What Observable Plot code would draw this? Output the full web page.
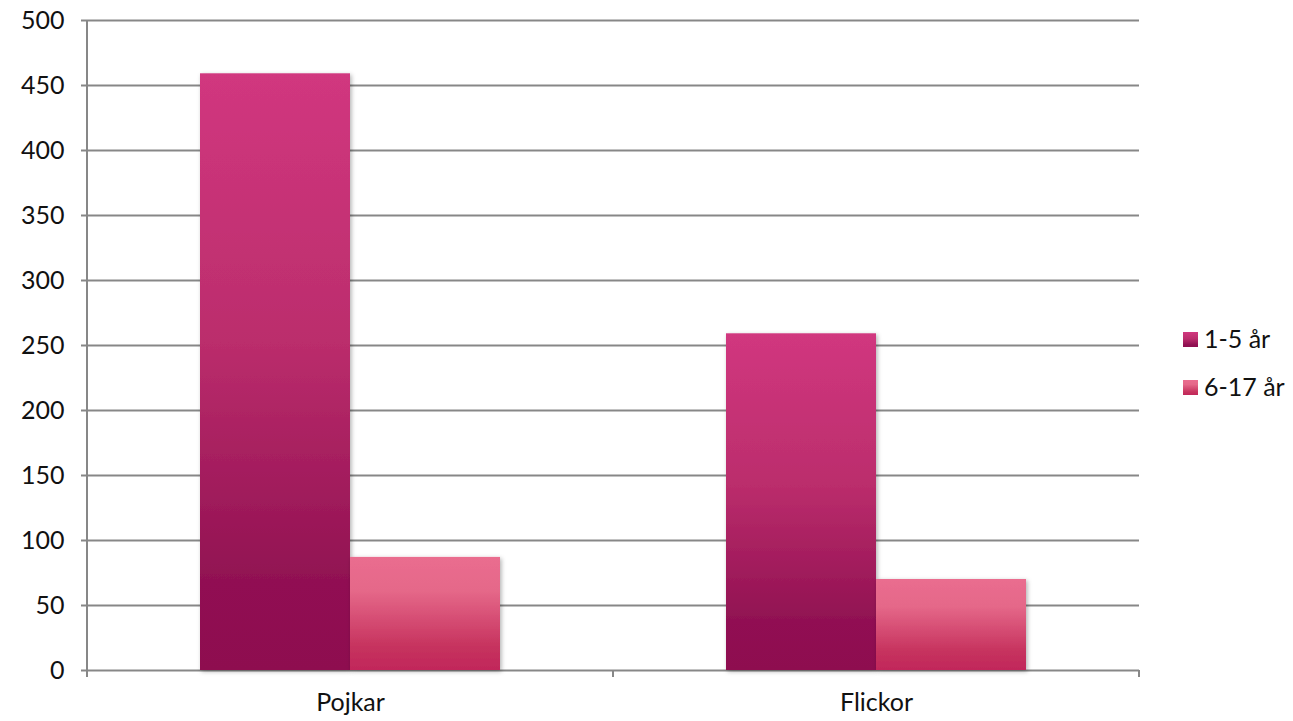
<!DOCTYPE html>
<html>
<head>
<meta charset="utf-8">
<script src="https://cdn.jsdelivr.net/npm/d3@7"></script>
<script src="https://cdn.jsdelivr.net/npm/@observablehq/plot@0.6"></script>
<style>
  html, body { margin: 0; padding: 0; background: #fff; }
  #chart { position: relative; width: 1293px; height: 721px; }
</style>
</head>
<body>
<div id="chart"></div>
<script>
// Barn per kön och åldersgrupp
const categories = ["Pojkar", "Flickor"];
const ageGroups = ["1-5 år", "6-17 år"];
const values15 = [459, 259];
const values617 = [87, 70];
const yTicks = [0, 50, 100, 150, 200, 250, 300, 350, 400, 450, 500];

const gradientIds = ["grad-young", "grad-old"];
const gradientStops = [
  [[0, "#D1377F"], [0.45, "#BB2D6C"], [0.85, "#911152"], [1, "#8E0F50"]],
  [[0, "#EA6D8F"], [0.3, "#E56889"], [0.8, "#C6325E"], [1, "#C1275A"]]
];

const data = categories.flatMap((c, i) => [
  {category: c, group: ageGroups[0], value: values15[i]},
  {category: c, group: ageGroups[1], value: values617[i]}
]);

const gridColor = "#878787";
const font = "Lato, 'DejaVu Sans', sans-serif";
const fontSize = 25;

const plot = Plot.plot({
  width: 1293,
  height: 721,
  marginLeft: 87,
  marginRight: 154,
  marginTop: 20,
  marginBottom: 51,
  style: {fontFamily: font, fontSize: `${fontSize}px`, color: "#111", background: "#fff", overflow: "visible"},
  fx: {domain: categories, padding: 0, label: null, axis: null},
  x: {domain: ageGroups, paddingInner: 0, paddingOuter: 0.75, axis: null},
  y: {domain: [0, 500], label: null, axis: null},
  marks: [
    Plot.gridY(yTicks, {stroke: gridColor, strokeOpacity: 1, strokeWidth: 2}),
    Plot.axisY(yTicks, {tickSize: 6, tickPadding: 17, stroke: gridColor, strokeWidth: 2, strokeOpacity: 1, label: null, fill: "#111"}),
    Plot.barY(data, {
      fx: "category",
      x: "group",
      y: "value",
      fill: d => `url(#${gradientIds[ageGroups.indexOf(d.group)]})`
    }),
    Plot.axisFx({anchor: "bottom", tickSize: 0, tickPadding: 23, label: null, fill: "#111"})
  ]
});

const svg = d3.select(plot);
const defs = svg.insert("defs", ":first-child");
gradientIds.forEach((id, i) => {
  const g = defs.append("linearGradient").attr("id", id)
    .attr("x1", 0).attr("y1", 0).attr("x2", 0).attr("y2", 1);
  gradientStops[i].forEach(([o, c]) => g.append("stop").attr("offset", o).attr("stop-color", c));
});
const f = defs.append("filter").attr("id", "bar-shadow")
  .attr("x", "-10%").attr("y", "-10%").attr("width", "130%").attr("height", "130%");
f.append("feDropShadow").attr("dx", 1.5).attr("dy", 1.5).attr("stdDeviation", 2)
  .attr("flood-color", "#000").attr("flood-opacity", 0.3);

svg.selectAll("g[aria-label='bar'] rect").attr("style", "filter:url(#bar-shadow)");

// Axis line and category boundary ticks, positioned from the plot's own scales
const yS = plot.scale("y");
const fxS = plot.scale("fx");
const y = d3.scaleLinear(yS.domain, yS.range);
const fx = d3.scaleBand(fxS.domain, fxS.range).paddingInner(fxS.paddingInner ?? 0).paddingOuter(fxS.paddingOuter ?? 0);
const y0 = y(0), yTop = y(500);
const deco = svg.append("g").attr("stroke", gridColor).attr("stroke-width", 2);
deco.append("line").attr("x1", fx.range()[0]).attr("x2", fx.range()[0]).attr("y1", yTop).attr("y2", y0 + 7);
const bounds = [...fx.domain().map(d => fx(d)), fx(fx.domain()[fx.domain().length - 1]) + fx.bandwidth()];
bounds.slice(1).forEach(b => {
  deco.append("line").attr("x1", b).attr("x2", b).attr("y1", y0).attr("y2", y0 + 7);
});

// Legend in the right margin
const legend = svg.append("g").attr("font-family", font).attr("font-size", fontSize)
  .attr("fill", "#111").attr("text-anchor", "start");
const legendX = fx.range()[1] + 44;
const legendY = [332, 380];
ageGroups.forEach((g, i) => {
  legend.append("rect").attr("x", legendX).attr("y", legendY[i]).attr("width", 15).attr("height", 15)
    .attr("fill", `url(#${gradientIds[i]})`);
  legend.append("text").attr("x", legendX + 21).attr("y", legendY[i] + 16).text(g);
});

document.getElementById("chart").append(plot);
</script>
</body>
</html>
